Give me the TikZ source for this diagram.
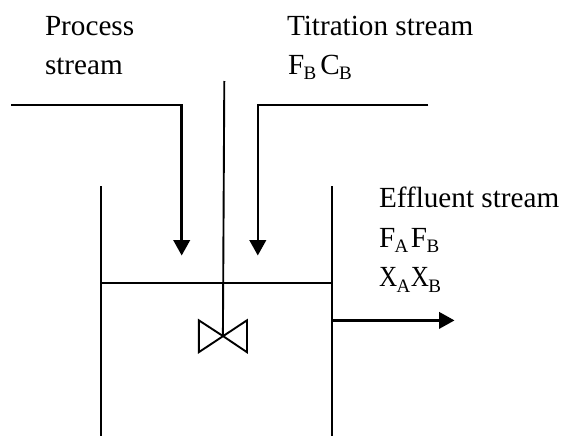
\documentclass[tikz,border=0pt]{standalone}
\usepackage{fontspec}
\setmainfont{Liberation Serif}
\usetikzlibrary{arrows.meta}
\newcommand{\subs}[1]{\kern-0.6pt\raisebox{-5.5pt}{\fontsize{19}{19}\selectfont #1}}
\newcommand{\narrowX}{\scalebox{0.86}[1]{X}}
\tikzset{
  x=1pt,y=-1pt,
  line/.style={draw=black,line width=2.5pt},
  thinline/.style={draw=black,line width=1.9pt},
  flow/.style={line,-{Triangle[length=15.5pt,width=16.5pt]}},
  lbl/.style={anchor=base west,inner sep=0pt,outer sep=0pt,font=\fontsize{29.2}{29.2}\selectfont,text=black}
}
\begin{document}
\begin{tikzpicture}
\useasboundingbox (0,0) rectangle (561,436);
\fill[white] (0,0) rectangle (561,436);
% tank
\coordinate (wlt) at (101.3,186);
\coordinate (wlb) at (101.3,436);
\coordinate (wrt) at (331.6,186);
\coordinate (wrb) at (331.6,436);
\coordinate (lvl) at (101.3,282.7);
\coordinate (lvr) at (331.6,282.7);
\draw[thinline] (wlt) -- (wlb);
\draw[thinline] (wrt) -- (wrb);
\draw[thinline] (lvl) -- (lvr);
% feeds
\coordinate (p0) at (11,105);
\coordinate (p1) at (181.7,105);
\coordinate (p2) at (181.7,255.5);
\coordinate (t0) at (428.3,105);
\coordinate (t1) at (257.8,105);
\coordinate (t2) at (257.8,255.5);
\draw[flow] (p0) -- (p1) -- (p2);
\draw[flow] (t0) -- (t1) -- (t2);
% outlet
\coordinate (o0) at (331.6,320.4);
\coordinate (o1) at (454.5,320.4);
\draw[flow] (o0) -- (o1);
% agitator
\coordinate (s0) at (224.3,81);
\coordinate (s1) at (222.9,336);
\coordinate (b1) at (198.8,320.3);
\coordinate (b2) at (198.8,352.2);
\coordinate (b3) at (247,320.3);
\coordinate (b4) at (247,352.2);
\draw[thinline] (s0) -- (s1);
\draw[thinline,line join=miter] (s1) -- (b1) -- (b2) -- (b3) -- (b4) -- cycle;
% labels
\node[lbl] (process) at (45,35.7) {Process};
\node[lbl] (pstream) at (45,74) {stream};
\node[lbl] (titr) at (287,35.7) {Titration stream};
\node[lbl] (fbcb) at (288,74) {F\subs{B}\kern4pt C\subs{B}};
\node[lbl] (eff) at (379,207) {Effluent stream};
\node[lbl] (fafb) at (379,247) {F\subs{A}\kern2.5pt F\subs{B}};
\node[lbl] (xaxb) at (379,286.7) {\narrowX\subs{A}\kern0.5pt \narrowX\subs{B}};
\end{tikzpicture}
\end{document}
